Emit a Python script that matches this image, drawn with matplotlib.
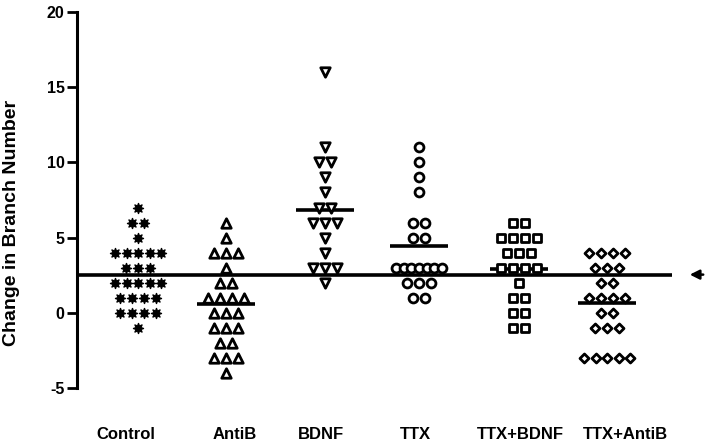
import numpy as np
import matplotlib
matplotlib.use("Agg")
import matplotlib.pyplot as plt

plt.rcParams['font.family'] = ['Liberation Sans', 'DejaVu Sans']

categories = ["Control", "AntiB", "BDNF", "TTX", "TTX+BDNF", "TTX+AntiB"]

control = [7, 6, 6, 5, 4, 4, 4, 4, 4, 3, 3, 3, 2, 2, 2, 2, 2, 1, 1, 1, 1, 0, 0, 0, 0, -1]
antib = [6, 5, 4, 4, 4, 3, 2, 2, 1, 1, 1, 1, 0, 0, 0, -1, -1, -1, -2, -2, -3, -3, -3, -4]
bdnf = [16, 11, 10, 10, 9, 8, 7, 7, 6, 6, 6, 5, 4, 3, 3, 3, 2]
ttx = [11, 10, 9, 8, 6, 6, 5, 5, 3, 3, 3, 3, 3, 3, 3, 2, 2, 2, 1, 1]
ttx_bdnf = [6, 6, 5, 5, 5, 5, 4, 4, 4, 3, 3, 3, 3, 2, 1, 1, 0, 0, -1, -1]
ttx_antib = [4, 4, 4, 4, 3, 3, 3, 2, 2, 1, 1, 1, 1, 0, 0, -1, -1, -1, -3, -3, -3, -3, -3]
series = [control, antib, bdnf, ttx, ttx_bdnf, ttx_antib]

yticks = [-5, 0, 5, 10, 15, 20]
ylabel = "Change in Branch Number"

# layout (pixel-based x coordinates)
W, H = 720, 444
centers = [138, 226, 325, 419, 519, 607]
label_x = [126, 235, 321, 415, 520, 625]
markers = [(8, 1, 0), '^', 'v', 'o', 's', 'D']
msizes = [7.2, 6.8, 6.8, 6.4, 6.0, 4.6]
spacing = 11.8
maxw = 46.0

fig = plt.figure(figsize=(W / 100, H / 100), dpi=100)
ax = fig.add_axes([77 / W, 56 / H, (W - 77) / W, 376 / H])
ax.set_xlim(77, W)
ax.set_ylim(-5, 20)

for i, vals in enumerate(series):
    vals = np.asarray(vals, dtype=float)
    xs, ys = [], []
    for v in np.unique(vals):
        k = int(np.sum(vals == v))
        sp = spacing if k <= 1 else min(spacing, maxw / (k - 1))
        for j in range(k):
            xs.append(centers[i] + (j - (k - 1) / 2) * sp)
            ys.append(v)
    if i == 0:
        ax.scatter(xs, ys, marker=markers[i], s=msizes[i] ** 2, c='black',
                   linewidths=1.0, edgecolors='black', zorder=3, clip_on=False)
    else:
        ax.scatter(xs, ys, marker=markers[i], s=msizes[i] ** 2, facecolors='white',
                   edgecolors='black', linewidths=2.0, zorder=3, clip_on=False)
    m = vals.mean()
    if i == 0:
        ax.plot([77, 672], [m, m], color='black', lw=2.6, solid_capstyle='butt', zorder=2, clip_on=False)
    else:
        ax.plot([centers[i] - 29, centers[i] + 29], [m, m], color='black', lw=2.6,
                solid_capstyle='butt', zorder=2)

ctrl_mean = np.mean(control)
ax.annotate('', xy=(687, ctrl_mean), xytext=(706, ctrl_mean),
            arrowprops=dict(arrowstyle='-|>', color='black', lw=1.8, mutation_scale=14),
            annotation_clip=False)

for s in ['top', 'right', 'bottom']:
    ax.spines[s].set_visible(False)
ax.spines['left'].set_linewidth(2.2)
ax.spines['left'].set_bounds(-5, 20)
ax.set_yticks(yticks)
ax.set_yticklabels([str(t) for t in yticks], fontsize=11.5, fontweight='bold')
ax.tick_params(axis='y', length=7, width=2, pad=2)
ax.set_xticks(label_x)
ax.set_xticklabels(categories, fontsize=12, fontweight='bold')
ax.tick_params(axis='x', length=0, pad=28)
ax.set_ylabel(ylabel, fontsize=14, fontweight='bold')
ax.yaxis.set_label_coords(-0.089, 0.44)

fig.savefig("out.png", dpi=100)
